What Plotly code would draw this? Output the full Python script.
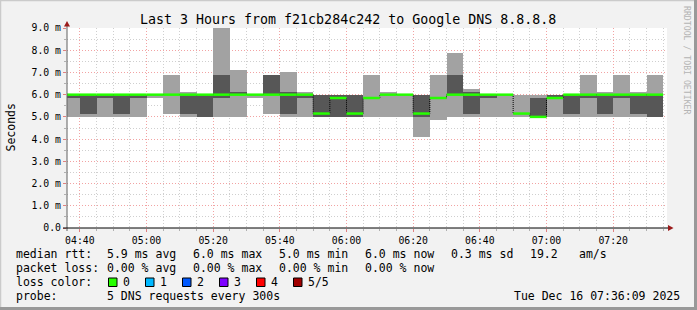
import plotly.graph_objects as go
import pandas as pd

# ---------------- data (milliseconds) ----------------
day = "2025-12-16 "
bucket_end = ["04:40", "04:45", "04:50", "04:55", "05:00", "05:05", "05:10", "05:15", "05:20",
              "05:25", "05:30", "05:35", "05:40", "05:45", "05:50", "05:55", "06:00", "06:05",
              "06:10", "06:15", "06:20", "06:25", "06:30", "06:35", "06:40", "06:45", "06:50",
              "06:55", "07:00", "07:05", "07:10", "07:15", "07:20", "07:25", "07:30", "07:35"]
ping_min = [5.0, 5.0, 5.0, 5.0, 5.0, 5.85, 5.15, 5.0, 5.0,
            5.0, 5.0, 5.85, 5.15, 5.0, 5.0, 5.0, 5.0, 5.0,
            5.0, 5.0, 5.0, 4.1, 4.88, 5.0, 5.0, 5.0, 5.0,
            5.0, 5.0, 5.0, 5.0, 5.0, 5.0, 5.0, 5.0, 5.0]
ping_2nd = [5.85, 5.15, 5.85, 5.15, 5.85, 6.0, 6.0, 5.15, 5.0,
            5.85, 6.0, 6.0, 6.0, 5.15, 5.85, 5.0, 5.0, 5.0,
            5.85, 6.0, 6.0, 5.0, 5.85, 6.0, 5.15, 5.85, 6.0,
            5.15, 5.0, 5.85, 5.15, 5.85, 5.15, 5.85, 5.15, 5.0]
median = [6.0, 6.0, 6.0, 6.0, 6.0, 6.0, 6.0, 6.0, 6.0,
          6.0, 6.0, 6.0, 6.0, 6.0, 6.0, 5.15, 5.85, 5.15,
          5.85, 6.0, 6.0, 5.15, 5.85, 6.0, 6.0, 6.0, 6.0,
          5.15, 5.0, 5.85, 6.0, 6.0, 6.0, 6.0, 6.0, 6.0]
ping_4th = [6.0, 6.0, 6.0, 6.0, 6.0, 6.0, 6.0, 6.0, 6.0,
            6.9, 6.12, 6.0, 6.9, 6.12, 6.0, 6.0, 6.0, 6.0,
            5.85, 6.0, 6.0, 6.0, 5.85, 6.9, 6.12, 6.0, 6.0,
            5.15, 5.85, 6.0, 6.0, 6.0, 6.0, 6.0, 6.0, 6.0]
ping_max = [6.0, 6.0, 6.0, 6.0, 6.0, 6.0, 6.9, 6.12, 6.0,
            9.0, 7.1, 6.0, 6.9, 7.02, 6.12, 6.0, 6.0, 6.0,
            6.9, 6.12, 6.0, 6.0, 6.9, 7.88, 6.27, 6.0, 6.0,
            6.0, 6.0, 6.0, 6.0, 6.9, 6.12, 6.9, 6.12, 6.9]

y_tickvals = [0, 1, 2, 3, 4, 5, 6, 7, 8, 9]
y_ticktext = ["0.0", "1.0 m", "2.0 m", "3.0 m", "4.0 m", "5.0 m", "6.0 m", "7.0 m", "8.0 m", "9.0 m"]

title = "Last 3 Hours from f21cb284c242 to Google DNS 8.8.8.8"
rtt_row = ["median rtt:", "5.9 ms avg", "6.0 ms max", "5.0 ms min", "6.0 ms now", "0.3 ms sd", "19.2", "am/s"]
loss_row = ["packet loss:", "0.00 % avg", "0.00 % max", "0.00 % min", "0.00 % now"]
loss_labels = ["0", "1", "2", "3", "4", "5/5"]
loss_colors = ["#26ff00", "#00b8ff", "#0059ff", "#7e00ff", "#ff0000", "#a10000"]
probe_text = ["probe:", "5 DNS requests every 300s"]
stamp = "Tue Dec 16 07:36:09 2025"

# ---------------- style ----------------
MONO = "DejaVu Sans Mono"
LIGHT = "#a2a2a2"
DARK = "#575757"
L, T, W, H = 67, 28, 600, 200
FW, FH = 697, 310


def px(x):
    return (x - L) / W


def py(y):
    return (T + H - y) / H


ends = pd.to_datetime([day + t for t in bucket_end])
starts = ends - pd.Timedelta(minutes=5)
centers = ends - pd.Timedelta(seconds=150)
step_ms = 300000

fig = go.Figure()
fig.add_trace(go.Bar(x=centers, base=ping_min, y=[b - a for a, b in zip(ping_min, ping_max)],
                     width=step_ms, marker=dict(color=LIGHT, line=dict(width=0)), hoverinfo="skip"))
fig.add_trace(go.Bar(x=centers, base=ping_2nd, y=[b - a for a, b in zip(ping_2nd, ping_4th)],
                     width=step_ms, marker=dict(color=DARK, line=dict(width=0)), hoverinfo="skip"))

# thin dark step line for the median (shows vertical transitions)
fig.add_trace(go.Scatter(x=list(starts) + [ends[-1]], y=median + [median[-1]], mode="lines",
                         line=dict(shape="hv", color="#000000", width=1, dash="1px,1px"),
                         hoverinfo="skip"))
# green median segments
gx, gy = [], []
for s, e, m in zip(starts, ends, median):
    gx += [s, e, None]
    gy += [m, m, None]
fig.add_trace(go.Scatter(x=gx, y=gy, mode="lines", line=dict(color=loss_colors[0], width=2.5),
                         hoverinfo="skip"))

fig.update_layout(
    width=FW, height=FH, autosize=False,
    margin=dict(l=L, r=FW - L - W, t=T, b=FH - T - H, pad=0),
    paper_bgcolor="#f2f2f2", plot_bgcolor="#ffffff",
    barmode="overlay", bargap=0, showlegend=False,
    font=dict(family=MONO, size=10, color="#000000"),
)
fig.update_xaxes(
    type="date", range=["2025-12-16 04:36:09", "2025-12-16 07:36:09"],
    tick0="2025-12-16 04:40:00", dtick=1200000, tickformat="%H:%M",
    showgrid=True, gridcolor="#f2a3a3", griddash="1px,2px", gridwidth=1,
    ticks="outside", ticklen=3, tickcolor="#e08080", tickfont=dict(family=MONO, size=9.8),
    minor=dict(dtick=300000, tick0="2025-12-16 04:40:00", showgrid=True, gridcolor="#cfcfcf",
               griddash="1px,2px", ticks="outside", ticklen=2, tickcolor="#b0b0b0"),
    showline=False, zeroline=False, fixedrange=True,
)
fig.update_yaxes(
    range=[0, 9], tickvals=y_tickvals, ticktext=y_ticktext,
    showgrid=True, gridcolor="#f2a3a3", griddash="1px,2px", gridwidth=1,
    ticks="outside", ticklen=3, tickcolor="#e08080", tickfont=dict(family=MONO, size=9.8),
    minor=dict(dtick=0.5, showgrid=True, gridcolor="#cfcfcf", griddash="1px,2px",
               ticks="outside", ticklen=2, tickcolor="#b0b0b0"),
    showline=False, zeroline=False, fixedrange=True,
)

shapes = []
# axes
shapes.append(dict(type="line", xref="paper", yref="paper", x0=px(67), x1=px(67), y0=py(231), y1=py(24),
                   line=dict(color="#606060", width=1), layer="above"))
shapes.append(dict(type="line", xref="paper", yref="paper", x0=px(63), x1=px(669), y0=py(228), y1=py(228),
                   line=dict(color="#000000", width=1), layer="above"))
# arrows
shapes.append(dict(type="path", xref="paper", yref="paper",
                   path=f"M {px(64)} {py(26.5)} L {px(70)} {py(26.5)} L {px(67)} {py(21)} Z",
                   fillcolor="#9b1b1b", line=dict(width=0), layer="above"))
shapes.append(dict(type="path", xref="paper", yref="paper",
                   path=f"M {px(668)} {py(225)} L {px(668)} {py(231)} L {px(673.5)} {py(228)} Z",
                   fillcolor="#9b1b1b", line=dict(width=0), layer="above"))
# frame shading
shapes.append(dict(type="line", xref="paper", yref="paper", x0=px(0), x1=px(FW), y0=py(0.5), y1=py(0.5),
                   line=dict(color="#cbcbcb", width=1.5), layer="above"))
shapes.append(dict(type="line", xref="paper", yref="paper", x0=px(0.5), x1=px(0.5), y0=py(0), y1=py(FH),
                   line=dict(color="#cbcbcb", width=1.5), layer="above"))
shapes.append(dict(type="line", xref="paper", yref="paper", x0=px(0), x1=px(FW), y0=py(FH - 1.5), y1=py(FH - 1.5),
                   line=dict(color="#999999", width=3), layer="above"))
shapes.append(dict(type="line", xref="paper", yref="paper", x0=px(FW - 1.5), x1=px(FW - 1.5), y0=py(0), y1=py(FH),
                   line=dict(color="#999999", width=3), layer="above"))

annotations = []


def text(s, x, y, size=11.5, anchor="left", color="#000000", angle=0):
    annotations.append(dict(text=s, x=px(x), y=py(y), xref="paper", yref="paper", showarrow=False,
                            xanchor=anchor, yanchor="middle", borderpad=0, borderwidth=0,
                            textangle=angle, font=dict(family=MONO, size=size, color=color)))


text(title, 348, 19, size=13.3, anchor="center")
text("Seconds", 10, 127.5, size=11.5, anchor="center", angle=-90)
text("RRDTOOL / TOBI OETIKER", 687, 60, size=8.2, anchor="center", color="#b4b4b4", angle=90)

rtt_x = [16, 107, 193, 279, 365, 451, 530, 579]
for s, x in zip(rtt_row, rtt_x):
    text(s, x, 254.3)
loss_x = [16, 107, 193, 279, 365]
for s, x in zip(loss_row, loss_x):
    text(s, x, 268.3)
text("loss color:", 16, 282.3)
for i, (lab, col) in enumerate(zip(loss_labels, loss_colors)):
    bx = 108.5 + i * 37
    shapes.append(dict(type="rect", xref="paper", yref="paper", x0=px(bx), x1=px(bx + 8.5),
                       y0=py(286.5), y1=py(278), fillcolor=col, line=dict(color="#000000", width=1),
                       layer="above"))
    text(lab, bx + 14.5, 282.3)
text(probe_text[0], 16, 296)
text(probe_text[1], 107, 296)
text(stamp, 680, 296, anchor="right")

fig.update_layout(shapes=shapes, annotations=annotations)
fig.write_html("out.html")
